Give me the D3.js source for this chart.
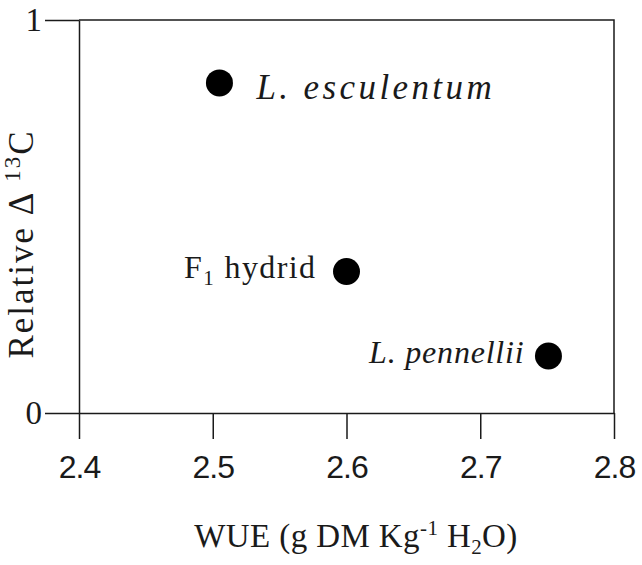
<!DOCTYPE html>
<html>
<head>
    <meta charset="utf-8">
    <title>WUE vs relative delta 13C</title>
    <script src="https://d3js.org/d3.v7.min.js"></script>
    <style>
        body { margin: 0; background: #fff; }
        .serif { font-family: "Liberation Serif", "Times New Roman", serif; }
    </style>
</head>
<body>
    <script>
        // data
        const genotypes = ['L. esculentum', 'F1 hydrid', 'L. pennellii'];
        const wue = [2.505, 2.60, 2.751];
        const relDelta = [0.84, 0.36, 0.145];
        const xTicks = [2.4, 2.5, 2.6, 2.7, 2.8];
        const yTicks = [0, 1];

        const width = 642, height = 565;
        const margin = {top: 20, right: 28, bottom: 152, left: 79};

        const svg = d3.select('body').append('svg')
            .attr('width', width)
            .attr('height', height);

        const x = d3.scaleLinear()
            .domain([2.4, 2.8])
            .range([margin.left, width - margin.right]);

        const y = d3.scaleLinear()
            .domain([0, 1])
            .range([height - margin.bottom, margin.top]);

        const ink = '#1a1a1a';

        // top and right frame
        svg.append('path')
            .attr('d', `M${x(2.4)},${y(1)}H${x(2.8)}V${y(0)}`)
            .attr('fill', 'none')
            .attr('stroke', ink)
            .attr('stroke-width', 1.5);

        const xAxis = svg.append('g')
            .attr('transform', `translate(0,${y(0)})`)
            .call(d3.axisBottom(x)
                .tickValues(xTicks)
                .tickSize(26)
                .tickSizeOuter(0)
                .tickPadding(16)
                .tickFormat(d3.format('.1f')));

        xAxis.selectAll('text')
            .attr('font-family', '"Liberation Sans", Arial, sans-serif')
            .attr('font-size', 32)
            .attr('letter-spacing', -1)
            .attr('fill', ink);

        const yAxis = svg.append('g')
            .attr('transform', `translate(${x(2.4)},0)`)
            .call(d3.axisLeft(y)
                .tickValues(yTicks)
                .tickSize(34)
                .tickSizeOuter(0)
                .tickPadding(3)
                .tickFormat(d3.format('d')));

        yAxis.selectAll('text')
            .attr('class', 'serif')
            .attr('font-family', null)
            .attr('font-size', 33)
            .attr('fill', ink);

        svg.selectAll('.domain, .tick line')
            .attr('stroke', ink)
            .attr('stroke-width', 1.5);

        // points
        svg.append('g')
            .selectAll('circle')
            .data(genotypes)
            .join('circle')
            .attr('cx', (d, i) => x(wue[i]))
            .attr('cy', (d, i) => y(relDelta[i]))
            .attr('r', 13.5)
            .attr('fill', '#000');

        // labels: first one to the right, others to the left
        const labelStyle = [
            {dx: 37, dy: 16, anchor: 'start', italic: true, size: 35, spacing: 3.4},
            {dx: -30, dy: 6, anchor: 'end', italic: false, size: 32, spacing: 1.4},
            {dx: -24, dy: 7, anchor: 'end', italic: true, size: 32, spacing: 0.8}
        ];

        svg.append('g')
            .selectAll('text')
            .data(genotypes)
            .join('text')
            .attr('class', 'serif')
            .attr('x', (d, i) => x(wue[i]) + labelStyle[i].dx)
            .attr('y', (d, i) => y(relDelta[i]) + labelStyle[i].dy)
            .attr('text-anchor', (d, i) => labelStyle[i].anchor)
            .attr('font-style', (d, i) => labelStyle[i].italic ? 'italic' : 'normal')
            .attr('font-size', (d, i) => labelStyle[i].size)
            .attr('letter-spacing', (d, i) => labelStyle[i].spacing)
            .attr('fill', ink)
            .each(function(d) {
                const t = d3.select(this);
                if (d.startsWith('F1')) {
                    t.append('tspan').text('F');
                    t.append('tspan').text('1').attr('font-size', 21).attr('dy', 7);
                    t.append('tspan').text(' hydrid').attr('dy', -7);
                } else {
                    t.text(d);
                }
            });

        // axis titles
        const xTitle = svg.append('text')
            .attr('class', 'serif')
            .attr('x', 356)
            .attr('y', 547)
            .attr('text-anchor', 'middle')
            .attr('font-size', 33)
            .attr('letter-spacing', 0.4)
            .attr('fill', ink);
        xTitle.append('tspan').text('WUE (g DM Kg');
        xTitle.append('tspan').text('-1').attr('font-size', 21).attr('dy', -12);
        xTitle.append('tspan').text(' H').attr('dy', 12);
        xTitle.append('tspan').text('2').attr('font-size', 21).attr('dy', 7);
        xTitle.append('tspan').text('O)').attr('dy', -7);

        const yTitle = svg.append('text')
            .attr('class', 'serif')
            .attr('transform', 'translate(33,244) rotate(-90)')
            .attr('text-anchor', 'middle')
            .attr('font-size', 35)
            .attr('letter-spacing', 2)
            .attr('fill', ink);
        yTitle.append('tspan').text('Relative \u0394 ');
        yTitle.append('tspan').text('13').attr('font-size', 23).attr('dy', -13);
        yTitle.append('tspan').text('C').attr('dy', 13);
    </script>
</body>
</html>
